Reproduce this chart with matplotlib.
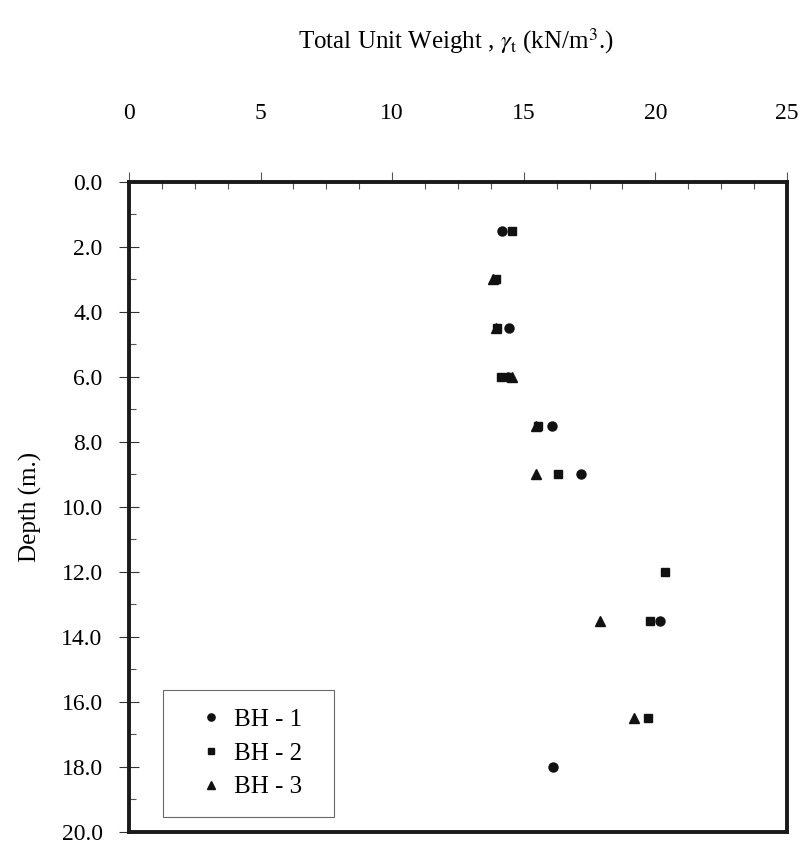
import matplotlib
matplotlib.use("Agg")
import matplotlib.pyplot as plt
from matplotlib.ticker import MultipleLocator, FormatStrFormatter

plt.rcParams['font.family'] = ['Liberation Serif', 'DejaVu Serif']
plt.rcParams['mathtext.fontset'] = 'stix'

# depth (m) and total unit weight (kN/m3) for each borehole
bh1_depth = [1.5, 4.5, 6.0, 7.5, 9.0, 13.5, 18.0]
bh1_gamma = [14.18, 14.45, 14.4, 16.08, 17.16, 20.17, 16.12]

bh2_depth = [1.5, 3.0, 4.5, 6.0, 7.5, 9.0, 12.0, 13.5, 16.5]
bh2_gamma = [14.56, 13.95, 14.0, 14.15, 15.55, 16.29, 20.36, 19.8, 19.73]

bh3_depth = [3.0, 4.5, 6.0, 7.5, 9.0, 13.5, 16.5]
bh3_gamma = [13.85, 13.93, 14.57, 15.45, 15.48, 17.89, 19.18]

fig = plt.figure(figsize=(8.03, 8.48), dpi=100)
ax = fig.add_axes([0.1606, 0.0189, 0.8194, 0.7665])

ax.plot(bh1_gamma, bh1_depth, 'o', color='#111111', markersize=6.5, label='BH - 1', zorder=3)
ax.plot(bh2_gamma, bh2_depth, 's', color='#111111', markersize=6, label='BH - 2', zorder=3)
ax.plot(bh3_gamma, bh3_depth, '^', color='#111111', markersize=6.5, label='BH - 3', zorder=3)

ax.set_xlim(0, 25)
ax.set_ylim(20, 0)

ax.xaxis.set_ticks_position('top')
ax.xaxis.set_label_position('top')
ax.xaxis.set_major_locator(MultipleLocator(5))
ax.xaxis.set_minor_locator(MultipleLocator(1.25))
ax.yaxis.set_major_locator(MultipleLocator(2))
ax.yaxis.set_minor_locator(MultipleLocator(1))
ax.yaxis.set_major_formatter(FormatStrFormatter('%.1f'))

ax.tick_params(axis='x', which='major', direction='out', length=7, width=0.8,
               pad=35, labelsize=17, color='#555555')
ax.tick_params(axis='x', which='minor', direction='in', length=5, width=0.8, color='#555555')
ax.tick_params(axis='y', which='major', direction='inout', length=14, width=0.8,
               pad=12, labelsize=17, color='#333333')
ax.tick_params(axis='y', which='minor', direction='in', length=5, width=0.8, color='#555555')

for s in ax.spines.values():
    s.set_linewidth(2.8)
    s.set_color('#1a1a1a')

ax.set_ylabel('Depth (m.)', fontsize=18, labelpad=14)
fig.text(0.567, 0.952, r'Total Unit Weight , $\gamma_{\rm t}$ (kN/m$^{3}$.)',
         fontsize=18, ha='center', va='center')

leg = ax.legend(loc='lower left', bbox_to_anchor=(0.052, 0.023, 0.26, 0.19),
                mode='expand', borderaxespad=0,
                fontsize=18, frameon=True, fancybox=False, handlelength=2.3,
                handletextpad=-0.2, borderpad=0.75, labelspacing=0.45, markerscale=0.8)
leg.get_frame().set_edgecolor('#444444')
leg.get_frame().set_linewidth(0.8)

fig.savefig('out.png', dpi=100)
